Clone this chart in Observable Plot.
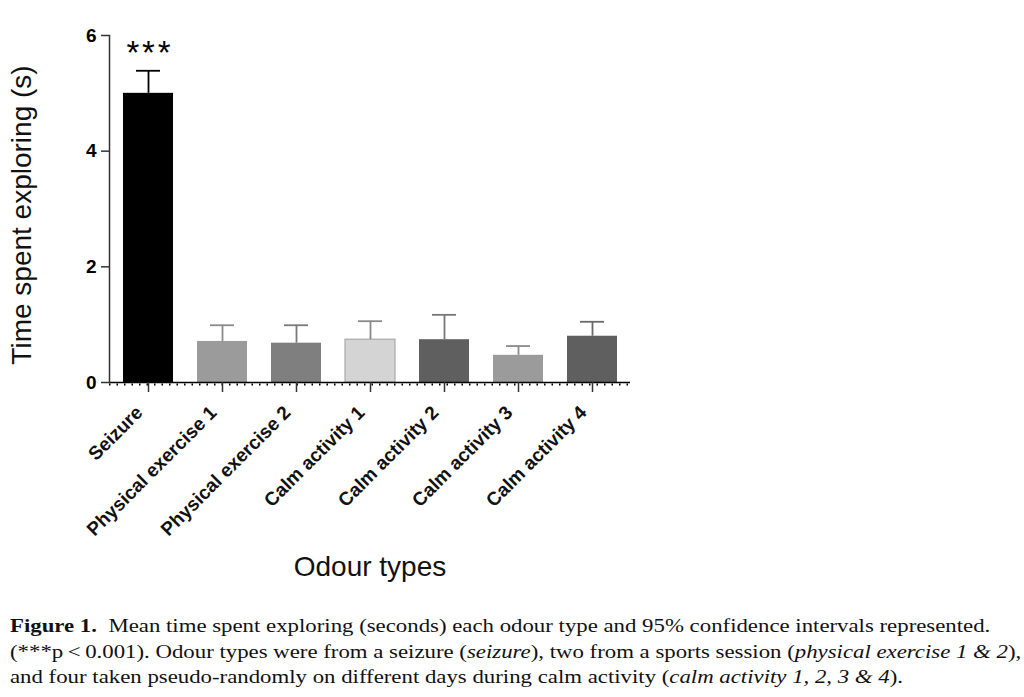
<!DOCTYPE html>
<html>
<head>
<meta charset="utf-8">
<script src="https://cdn.jsdelivr.net/npm/d3@7"></script>
<script src="https://cdn.jsdelivr.net/npm/@observablehq/plot@0.6"></script>
<style>
  html, body { margin: 0; padding: 0; background: #fff; overflow: hidden; }
  #chart { position: absolute; left: 0; top: 0; }
  #caption {
    position: absolute; left: 10px; top: 613px; white-space: nowrap;
    font-family: "Liberation Serif", "DejaVu Serif", serif;
    font-size: 19px; line-height: 25.5px; color: #111;
    transform: scaleX(1.2); transform-origin: left top;
  }
</style>
</head>
<body>
<div id="chart"></div>
<div id="caption"><b>Figure 1.</b>&nbsp; Mean time spent exploring (seconds) each odour type and 95% confidence intervals represented.<br>(***p&thinsp;&lt;&thinsp;0.001). Odour types were from a seizure (<i>seizure</i>), two from a sports session (<i>physical exercise 1 &amp; 2</i>),<br>and four taken pseudo-randomly on different days during calm activity (<i>calm activity 1, 2, 3 &amp; 4</i>).</div>
<script>
const categories = ["Seizure", "Physical exercise 1", "Physical exercise 2", "Calm activity 1", "Calm activity 2", "Calm activity 3", "Calm activity 4"];
const means = [5.0, 0.71, 0.68, 0.74, 0.74, 0.47, 0.80];
const upperCI = [5.39, 0.99, 0.99, 1.06, 1.17, 0.63, 1.05];
const yTicks = [0, 2, 4, 6];
const significance = ["*\u200A*\u200A*", "", "", "", "", "", ""];

const barColors = ["#000000", "#9b9b9b", "#7f7f7f", "#d4d4d4", "#5f5f5f", "#9b9b9b", "#5f5f5f"];
const errColors = ["#000000", "#8a8a8a", "#7a7a7a", "#8a8a8a", "#777777", "#8a8a8a", "#6a6a6a"];

const data = categories.map((c, i) => ({cat: c, mean: means[i], hi: upperCI[i], sig: significance[i]}));

const font = "'Liberation Sans', Arial, sans-serif";
const W = 1024, H = 600;

const chart = Plot.plot({
  width: W, height: H,
  marginLeft: 109, marginRight: 394, marginTop: 35, marginBottom: H - 382,
  style: {fontFamily: font, background: "#fff", overflow: "visible"},
  x: {domain: categories, paddingInner: 0.33, paddingOuter: 0.165, label: null},
  y: {domain: [0, 6], label: null},
  color: {type: "ordinal", domain: categories, range: barColors},
  marks: [
    Plot.barY(data, {x: "cat", y: "mean", fill: "cat", stroke: (d, i) => i === 3 ? "#aaaaaa" : "none", strokeWidth: 1.2}),
    Plot.ruleX(data, {x: "cat", y1: "mean", y2: "hi", stroke: (d) => errColors[categories.indexOf(d.cat)], strokeWidth: 1.8}),
    Plot.tickY(data, {x: "cat", y: "hi", stroke: (d) => errColors[categories.indexOf(d.cat)], strokeWidth: 1.8, insetLeft: 13, insetRight: 13}),
    Plot.text(data, {x: "cat", y: "hi", text: "sig", dy: -17, fontSize: 33, fill: "#000", fontFamily: font}),
    Plot.ruleY([0], {stroke: "#000", strokeWidth: 1.3}),
    Plot.ruleY([0], {stroke: "#000", strokeWidth: 2.2, dy: 2, strokeDasharray: "1.5 6"}),
    Plot.frame({anchor: "left", stroke: "#333", strokeWidth: 1.5}),
    Plot.axisY({ticks: yTicks, tickSize: 8, tickPadding: 5, fontSize: 19, fontWeight: "bold", tickFormat: d3.format("d"), label: null, stroke: "#333", strokeWidth: 1.5}),
    Plot.axisX({tickSize: 10, tickFormat: () => "", label: null, stroke: "#333", strokeWidth: 1.5}),
    Plot.text(categories, {x: (d) => d, frameAnchor: "bottom", rotate: -45, textAnchor: "end", lineAnchor: "middle", dx: -9, dy: 27, fontSize: 19, fontWeight: "bold", fill: "#111", fontFamily: font}),
    Plot.text(["Time spent exploring (s)"], {frameAnchor: "left", dx: -87, dy: 6, rotate: -90, textAnchor: "middle", fontSize: 28, fill: "#111", fontFamily: font}),
    Plot.text(["Odour types"], {frameAnchor: "bottom", dy: 193, fontSize: 28, fill: "#111", fontFamily: font})
  ]
});
document.getElementById("chart").appendChild(chart);
</script>
</body>
</html>
